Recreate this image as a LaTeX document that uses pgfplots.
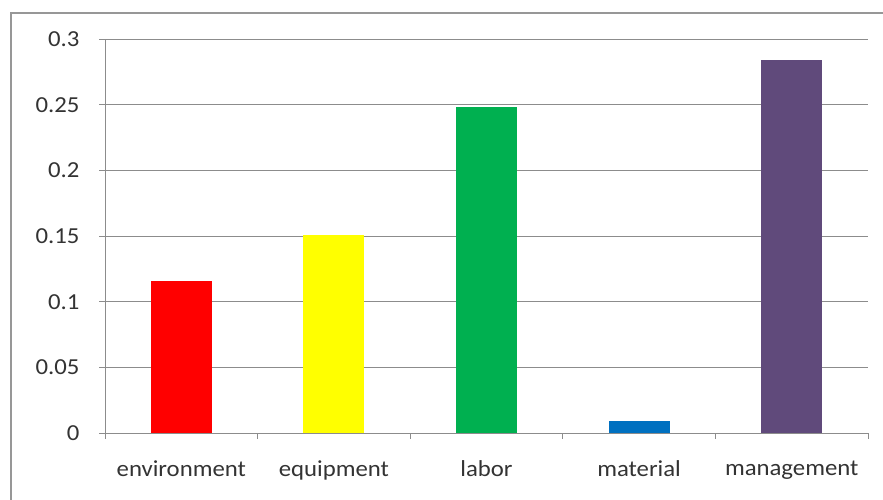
\documentclass[border=0pt]{standalone}
\usepackage{fontspec}
\setmainfont[FakeStretch=1.08]{Carlito}
\usepackage{pgfplots}
\pgfplotsset{compat=1.18}

\definecolor{barRed}{HTML}{FF0000}
\definecolor{barYellow}{HTML}{FFFF00}
\definecolor{barGreen}{HTML}{00B050}
\definecolor{barBlue}{HTML}{0070C0}
\definecolor{barPurple}{HTML}{604A7B}
\definecolor{gridgray}{HTML}{8C8C8C}
\definecolor{textgray}{HTML}{333333}

\begin{document}
\begin{tikzpicture}[x=1bp,y=1bp]
% canvas and outer chart frame
\path[use as bounding box] (0,0) rectangle (883,500);
\begin{scope}
\clip (0,0) rectangle (883,500);
\draw[gridgray!90, line width=1.2bp] (11,-10) rectangle (900,487);
\end{scope}
\begin{axis}[
  at={(105bp,67bp)}, anchor=south west,
  scale only axis,
  width=763bp, height=394bp,
  xmin=-0.5, xmax=4.5,
  ymin=0, ymax=0.3,
  ytick={0,0.05,...,0.3},
  yticklabels={0,0.05,0.1,0.15,0.2,0.25,0.3},
  xtick={-0.5,0.5,...,4.5},
  xticklabels={},
  extra x ticks={0,1,2,3,4},
  extra x tick labels={environment,equipment,labor,material,management},
  extra x tick style={major tick length=0pt, grid=none},
  ymajorgrids,
  grid style={gridgray, line width=0.8bp},
  axis x line*=bottom,
  axis y line*=left,
  axis line style={gridgray, line width=0.8bp},
  every tick/.style={gridgray, line width=0.8bp},
  major tick length=6bp,
  tick align=outside,
  ticklabel style={font=\fontsize{23}{26}\selectfont, text=textgray},
  yticklabel style={xshift=-16bp},
  xticklabel style={yshift=-24bp},
  /pgf/number format/assume math mode=true,
  ybar, bar width=61bp,
  bar shift=0pt,
  clip=false,
]
\addplot[draw=none, fill=barRed]    coordinates {(0,0.116)};
\addplot[draw=none, fill=barYellow] coordinates {(1,0.151)};
\addplot[draw=none, fill=barGreen]  coordinates {(2,0.248)};
\addplot[draw=none, fill=barBlue]   coordinates {(3,0.009)};
\addplot[draw=none, fill=barPurple] coordinates {(4,0.284)};
\end{axis}
\end{tikzpicture}
\end{document}
